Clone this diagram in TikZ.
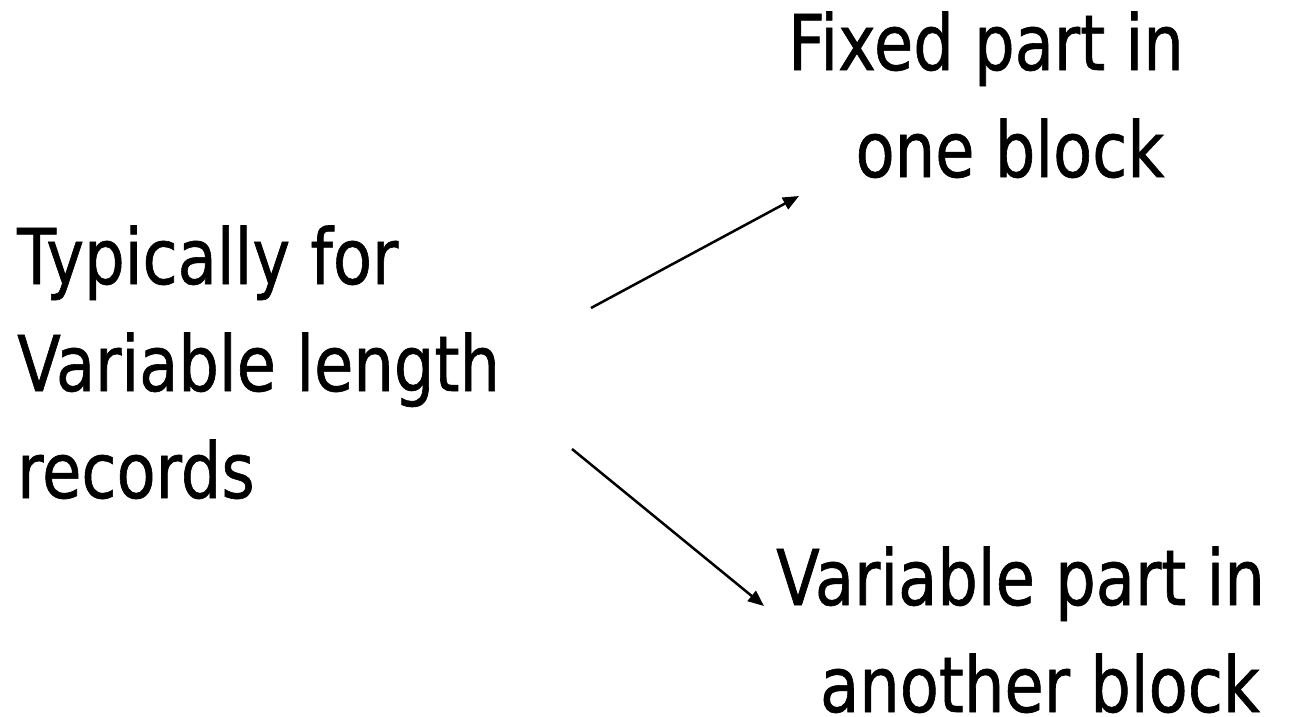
\documentclass[tikz,border=0pt]{standalone}
\usepackage{fontspec}
\setmainfont{DejaVu Sans}[FakeStretch=0.83,FakeBold=0.8]
\usetikzlibrary{arrows.meta}
\begin{document}
\begin{tikzpicture}[x=1pt,y=-1pt,
  txt/.style={inner sep=0pt, font=\fontsize{77}{107}\selectfont},
  arrowline/.style={line width=2.5pt, -{Triangle[length=16pt,width=13pt]}}]
\useasboundingbox (0,0) rectangle (1293,717);
% source text on the left (anchored at the baseline of its last line)
\node[txt, align=left, anchor=base west] (rec) at (17,498)
  {Typically for\\Variable length\\records};
% the two destinations
\node[txt, align=center, anchor=base] (fixed) at (1010,177)
  {Fixed part in\hspace*{48pt}\\one block};
\node[txt, align=center, anchor=base] (var) at (1040,712)
  {Variable part in\hspace*{39pt}\\another block};
% arrow end points
\coordinate (s1) at (591,308);
\coordinate (t1) at (799,196);
\coordinate (s2) at (572,449);
\coordinate (t2) at (764,606);
\draw[arrowline] (s1) -- (t1);
\draw[arrowline] (s2) -- (t2);
\end{tikzpicture}
\end{document}
